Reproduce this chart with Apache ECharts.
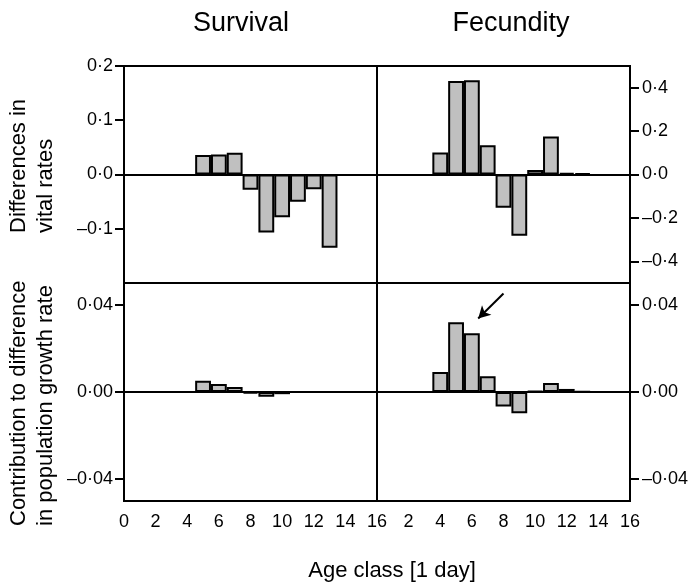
<!DOCTYPE html>
<html>
<head>
<meta charset="utf-8">
<script src="https://cdn.jsdelivr.net/npm/echarts@6/dist/echarts.min.js"></script>
<style>
  html, body { margin: 0; padding: 0; background: #fff; }
  #chart { width: 692px; height: 583px; }
</style>
</head>
<body>
<div id="chart"></div>
<script>
  // values
  var survivalAges = [5, 6, 7, 8, 9, 10, 11, 12, 13];
  var survivalDiff = [0.036, 0.037, 0.040, -0.028, -0.107, -0.079, -0.050, -0.027, -0.135];
  var fecundityAges = [4, 5, 6, 7, 8, 9, 10, 11, 12, 13];
  var fecundityDiff = [0.101, 0.431, 0.434, 0.135, -0.153, -0.282, 0.021, 0.175, 0.008, 0.005];
  var survivalContribAges = [5, 6, 7, 8, 9, 10];
  var survivalContrib = [0.0052, 0.0037, 0.0023, -0.0008, -0.0022, -0.0010];
  var fecundityContrib = [0.0092, 0.032, 0.027, 0.0072, -0.0066, -0.0098, 0.0004, 0.0041, 0.0014, 0.0003];

  var ageTicks = [0, 2, 4, 6, 8, 10, 12, 14, 16];
  var survDiffTicks = [-0.1, 0, 0.1, 0.2];
  var fecDiffTicks = [-0.4, -0.2, 0, 0.2, 0.4];
  var contribTicks = [-0.04, 0, 0.04];

  // arrow annotation in the fecundity contribution panel (data coords)
  var arrowFrom = [8.0, 0.0452];
  var arrowTo = [6.4, 0.0337];

  var FONT = 'Liberation Sans, Arial, sans-serif';

  function pairs(xs, ys) {
    return xs.map(function (x, i) { return [x, ys[i]]; });
  }
  function fmt(digits) {
    return function (v) {
      var s = Math.abs(v).toFixed(digits).replace('.', '\u00b7');
      return (v < -1e-9 ? '\u2013' : '') + s;
    };
  }

  var chart = echarts.init(document.getElementById('chart'));

  var panelW = 253;
  var grids = [
    { left: 124, top: 66, width: panelW, height: 217 },
    { left: 377, top: 66, width: panelW, height: 217 },
    { left: 124, top: 283, width: panelW, height: 218 },
    { left: 377, top: 283, width: panelW, height: 218 }
  ].map(function (g) {
    return Object.assign({ show: true, borderColor: '#000', borderWidth: 2, backgroundColor: 'transparent' }, g);
  });

  function xAxis(idx, labels, hideZero) {
    return {
      type: 'value', gridIndex: idx, min: 0, max: 16, interval: 2,
      axisLine: { show: false, onZero: false }, axisTick: { show: false }, splitLine: { show: false },
      axisLabel: {
        show: labels, margin: 12, color: '#000', fontFamily: FONT, fontSize: 18,
        customValues: ageTicks,
        formatter: function (v) { return (hideZero && v === 0) ? '' : String(v); }
      }
    };
  }
  function yAxis(idx, pos, min, max, ticks, digits, margin) {
    return {
      type: 'value', gridIndex: idx, position: pos, min: min, max: max,
      axisLine: { show: false, onZero: false }, splitLine: { show: false },
      axisTick: { show: true, length: 9, inside: false, customValues: ticks, lineStyle: { color: '#000', width: 2 } },
      axisLabel: { margin: margin, color: '#000', fontFamily: FONT, fontSize: 18, customValues: ticks, formatter: fmt(digits) }
    };
  }

  var zeroLine = {
    silent: true, symbol: ['none', 'none'], label: { show: false },
    lineStyle: { color: '#000', width: 2, type: 'solid' },
    data: [{ yAxis: 0 }]
  };
  var barStyle = { color: '#c0c0c0', borderColor: '#000', borderWidth: 2 };

  function barSeries(idx, data, extraMarks) {
    var ml = JSON.parse(JSON.stringify(zeroLine));
    if (extraMarks) ml.data = ml.data.concat(extraMarks);
    return {
      type: 'bar', xAxisIndex: idx, yAxisIndex: idx, data: data,
      barWidth: '100%', itemStyle: barStyle, silent: true,
      markLine: ml
    };
  }

  chart.setOption({
    animation: false,
    grid: grids,
    xAxis: [xAxis(0, false, false), xAxis(1, false, false), xAxis(2, true, false), xAxis(3, true, true)],
    yAxis: [
      yAxis(0, 'left', -0.2, 0.2, survDiffTicks, 1, 11),
      yAxis(1, 'right', -0.5, 0.5, fecDiffTicks, 1, 12),
      yAxis(2, 'left', -0.05, 0.05, contribTicks, 2, 11),
      yAxis(3, 'right', -0.05, 0.05, contribTicks, 2, 12)
    ],
    series: [
      barSeries(0, pairs(survivalAges, survivalDiff)),
      barSeries(1, pairs(fecundityAges, fecundityDiff)),
      barSeries(2, pairs(survivalContribAges, survivalContrib)),
      barSeries(3, pairs(fecundityAges, fecundityContrib), [
        [{ coord: arrowFrom, symbol: 'none' }, { coord: arrowTo, symbol: 'arrow', symbolSize: [10, 12] }]
      ])
    ],
    graphic: [
      { type: 'text', x: 241, y: 24, style: { text: 'Survival', font: '27px ' + FONT, fill: '#000', textAlign: 'center', textVerticalAlign: 'middle' } },
      { type: 'text', x: 511, y: 24, style: { text: 'Fecundity', font: '27px ' + FONT, fill: '#000', textAlign: 'center', textVerticalAlign: 'middle' } },
      { type: 'text', x: 392, y: 571, style: { text: 'Age class [1 day]', font: '22px ' + FONT, fill: '#000', textAlign: 'center', textVerticalAlign: 'middle' } },
      { type: 'text', x: 32, y: 233, rotation: Math.PI / 2,
        style: { text: 'Differences in\nvital rates', font: '22px ' + FONT, lineHeight: 27, fill: '#000', textAlign: 'left', textVerticalAlign: 'middle' } },
      { type: 'text', x: 32, y: 526, rotation: Math.PI / 2,
        style: { text: 'Contribution to difference\nin population growth rate', font: '22px ' + FONT, lineHeight: 27, fill: '#000', textAlign: 'left', textVerticalAlign: 'middle' } }
    ]
  });
</script>
</body>
</html>
